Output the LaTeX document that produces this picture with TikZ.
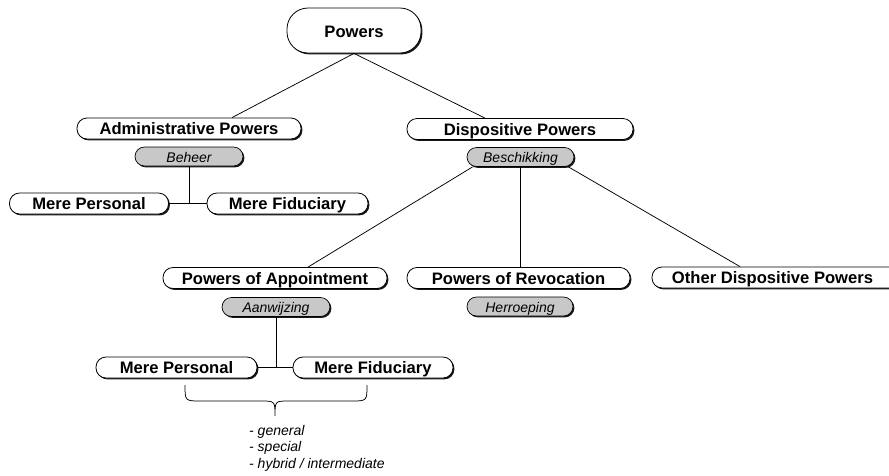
\documentclass[tikz,border=0pt]{standalone}
\usepackage{fontspec}
\setmainfont{Liberation Sans}
\usetikzlibrary{shadows,calc}
\definecolor{pillgray}{RGB}{200,200,200}
\tikzset{
  pill/.style={draw=black, line width=0.8pt, fill=white, rectangle, rounded corners=10pt,
    inner sep=0pt, minimum height=21pt, text height=13pt, text depth=1pt,
    font=\fontsize{16.6}{19}\selectfont\bfseries,
    drop shadow={shadow xshift=1.4pt, shadow yshift=-1.4pt, fill=black, opacity=0.9}},
  tag/.style={draw=black, line width=0.7pt, fill=pillgray, rectangle, rounded corners=9.5pt,
    inner sep=0pt, minimum height=19pt, text height=12pt, text depth=1pt,
    font=\fontsize{14}{16.5}\selectfont\itshape,
    drop shadow={shadow xshift=1.4pt, shadow yshift=-1.4pt, fill=black, opacity=0.9}},
  conn/.style={draw=black, line width=0.75pt},
}
\begin{document}
\begin{tikzpicture}[x=1pt,y=-1pt]
\useasboundingbox (0,0) rectangle (889,475);

\node[pill, rounded corners=21pt, minimum width=134pt, minimum height=45pt, text height=14.5pt] (pw) at (354,30.5) {Powers};

\node[pill, minimum width=224pt] (adm) at (189,128.5) {Administrative Powers};
\node[tag, minimum width=108pt] (beh) at (189,156.5) {Beheer};
\node[pill, minimum width=159pt] (mp1) at (89,203.5) {Mere Personal};
\node[pill, minimum width=161pt] (mf1) at (287.5,203.5) {Mere Fiduciary};

\node[pill, minimum width=226pt] (disp) at (520,129) {Dispositive Powers};
\node[tag, minimum width=107pt] (besch) at (520.5,157) {Beschikking};

\node[pill, minimum width=224pt] (poa) at (275,278) {Powers of Appointment};
\node[tag, minimum width=108pt] (aanw) at (276,307) {Aanwijzing};
\node[pill, minimum width=223pt] (por) at (518.5,278) {Powers of Revocation};
\node[tag, minimum width=106pt] (herr) at (520,306.5) {Herroeping};
\node[pill, minimum width=250pt] (oth) at (777,277.5) {\hspace*{-9pt}Other Dispositive Powers};

\node[pill, minimum width=161pt] (mp2) at (176.5,367.5) {Mere Personal};
\node[pill, minimum width=160pt] (mf2) at (373,367.5) {Mere Fiduciary};

% connectors
\draw[conn] (pw.south) -- ([xshift=43pt]adm.north);
\draw[conn] (pw.south) -- ([xshift=-35pt]disp.north);

\coordinate (j1) at (beh.south |- mp1.east);
\draw[conn] (beh.south) -- (j1);
\draw[conn] (mp1.east) -- (mf1.west);

\draw[conn] ([xshift=6pt]besch.south west) -- ([xshift=33pt]poa.north);
\draw[conn] (besch.south) -- (besch.south |- por.north);
\draw[conn] ([xshift=-6pt]besch.south east) -- ([xshift=-37pt]oth.north);

\coordinate (j2) at (aanw.south |- mp2.east);
\draw[conn] (aanw.south) -- (j2);
\draw[conn] (mp2.east) -- (mf2.west);

% brace
\coordinate (bl) at (185,385);
\coordinate (br) at (367,385);
\coordinate (bt) at (275,416);
\draw[conn] (bl) .. controls ($(bl)+(0,16)$) .. ($(bl)+(16,16)$)
  -- ($(bt)+(-14,-15)$) .. controls ($(bt)+(0,-15)$) .. (bt)
  .. controls ($(bt)+(0,-15)$) .. ($(bt)+(14,-15)$)
  -- ($(br)+(-16,16)$) .. controls ($(br)+(0,16)$) .. (br);

\node[anchor=north west, align=left, inner sep=0pt, font=\fontsize{14}{16.5}\selectfont\itshape] (list) at (249,425)
  {- general\\- special\\- hybrid / intermediate};
\end{tikzpicture}
\end{document}
